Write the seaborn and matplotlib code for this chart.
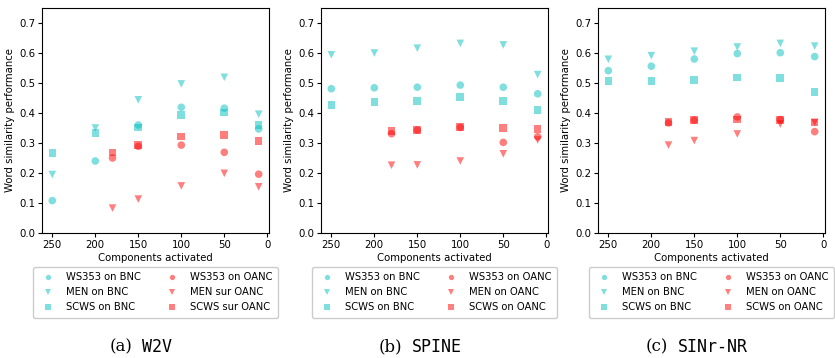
import seaborn as sns
import matplotlib.pyplot as plt
import pandas as pd

# -----------------------------
# Data
# -----------------------------
x_bnc = [250, 200, 150, 100, 50, 10]
x_oanc = [180, 150, 100, 50, 10]

# (a) W2V
w2v_ws353_bnc = [0.108, 0.240, 0.360, 0.419, 0.416, 0.347]
w2v_men_bnc = [0.195, 0.350, 0.444, 0.497, 0.519, 0.396]
w2v_scws_bnc = [0.267, 0.333, 0.352, 0.394, 0.402, 0.360]
w2v_ws353_oanc = [0.250, 0.289, 0.293, 0.269, 0.196]
w2v_men_oanc = [0.083, 0.113, 0.157, 0.199, 0.154]
w2v_scws_oanc = [0.268, 0.293, 0.322, 0.326, 0.306]

# (b) SPINE
spine_ws353_bnc = [0.481, 0.484, 0.486, 0.493, 0.486, 0.464]
spine_men_bnc = [0.594, 0.600, 0.616, 0.632, 0.627, 0.528]
spine_scws_bnc = [0.426, 0.437, 0.439, 0.454, 0.441, 0.409]
spine_ws353_oanc = [0.331, 0.343, 0.352, 0.302, 0.321]
spine_men_oanc = [0.226, 0.227, 0.240, 0.264, 0.310]
spine_scws_oanc = [0.341, 0.344, 0.354, 0.351, 0.346]

# (c) SINr-NR
sinr_ws353_bnc = [0.541, 0.556, 0.580, 0.598, 0.601, 0.588]
sinr_men_bnc = [0.579, 0.591, 0.606, 0.620, 0.632, 0.623]
sinr_scws_bnc = [0.506, 0.507, 0.511, 0.518, 0.516, 0.469]
sinr_ws353_oanc = [0.367, 0.376, 0.387, 0.378, 0.338]
sinr_men_oanc = [0.293, 0.308, 0.330, 0.363, 0.369]
sinr_scws_oanc = [0.370, 0.376, 0.378, 0.376, 0.368]

labels_a = ["WS353 on BNC", "MEN on BNC", "SCWS on BNC",
            "WS353 on OANC", "MEN sur OANC", "SCWS sur OANC"]
labels_bc = ["WS353 on BNC", "MEN on BNC", "SCWS on BNC",
             "WS353 on OANC", "MEN on OANC", "SCWS on OANC"]

panels = [
    ("(a)", "W2V", labels_a,
     [w2v_ws353_bnc, w2v_men_bnc, w2v_scws_bnc,
      w2v_ws353_oanc, w2v_men_oanc, w2v_scws_oanc]),
    ("(b)", "SPINE", labels_bc,
     [spine_ws353_bnc, spine_men_bnc, spine_scws_bnc,
      spine_ws353_oanc, spine_men_oanc, spine_scws_oanc]),
    ("(c)", "SINr-NR", labels_bc,
     [sinr_ws353_bnc, sinr_men_bnc, sinr_scws_bnc,
      sinr_ws353_oanc, sinr_men_oanc, sinr_scws_oanc]),
]

# -----------------------------
# Figure layout
# -----------------------------
fig = plt.figure(figsize=(8.35, 3.58), dpi=100)
ax_lefts = [42, 321, 598]
cap_centers = [141, 420, 697]
W, H = 835, 358

marker_list = ["o", "v", "s", "o", "v", "s"]
color_list = ["c", "c", "c", "r", "r", "r"]

for (tag, name, labels, series), left, cc in zip(panels, ax_lefts, cap_centers):
    ax = fig.add_axes([left / W, (H - 233) / H, 227 / W, 225 / H])

    rows = []
    for i, (lab, vals) in enumerate(zip(labels, series)):
        xs = x_bnc if i < 3 else x_oanc
        for xv, yv in zip(xs, vals):
            rows.append({"x": xv, "y": yv, "label": lab})
    df = pd.DataFrame(rows)

    sns.scatterplot(
        data=df, x="x", y="y", hue="label", style="label",
        hue_order=labels, style_order=labels,
        palette=dict(zip(labels, color_list)),
        markers=dict(zip(labels, marker_list)),
        s=30, alpha=0.5, linewidth=0, ax=ax,
    )
    ax.set_xlim(262, -2)
    ax.set_ylim(0, 0.75)
    ax.set_xticks([250, 200, 150, 100, 50, 0])
    ax.set_yticks([0.0, 0.1, 0.2, 0.3, 0.4, 0.5, 0.6, 0.7])
    ax.tick_params(labelsize=7.3, length=3, pad=2)
    ax.set_xlabel("Components activated", fontsize=7.3, labelpad=2)
    ax.set_ylabel("Word similarity performance", fontsize=7.3, labelpad=3)

    ax.legend(loc="upper center", bbox_to_anchor=(0.5, -0.128), ncol=2,
              fontsize=7.2, markerscale=0.7, columnspacing=2.1,
              handletextpad=0.8, borderpad=0.55, labelspacing=0.5,
              framealpha=1)

    # caption: "(x)" in regular font, model name in monospace
    t1 = fig.text(0, 1 - 347 / H, tag, fontsize=12, va="center",
                  family="DejaVu Serif")
    t2 = fig.text(0, 1 - 347 / H, name, fontsize=12, va="center",
                  family="DejaVu Sans Mono")
    r = fig.canvas.get_renderer()
    w1 = t1.get_window_extent(r).width
    w2 = t2.get_window_extent(r).width
    gap = 10
    start = cc - (w1 + gap + w2) / 2
    t1.set_x(start / W)
    t2.set_x((start + w1 + gap) / W)

plt.savefig("out.png", dpi=100)
plt.close()
